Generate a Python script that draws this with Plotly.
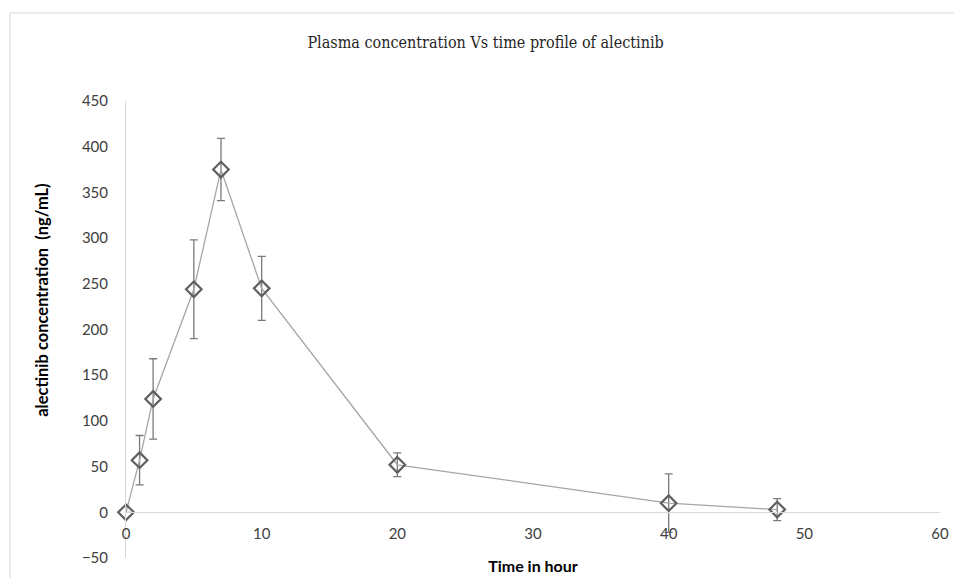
import plotly.graph_objects as go

time_h = [0, 1, 2, 5, 7, 10, 20, 40, 48]
conc = [0, 57, 124, 244, 375, 245, 52, 10, 3]
sd = [0, 27, 44, 54, 34, 35, 13, 32, 12]

x_ticks = [0, 10, 20, 30, 40, 50, 60]
y_ticks = [-50, 0, 50, 100, 150, 200, 250, 300, 350, 400, 450]

fig = go.Figure()
fig.add_trace(go.Scatter(
    x=time_h, y=conc, mode="lines+markers", cliponaxis=False,
    line=dict(color="#a6a6a6", width=1.3),
    marker=dict(symbol="diamond-open", size=12, color="#5f5f5f", line=dict(width=2.2, color="#5f5f5f")),
    error_y=dict(type="data", array=sd, visible=True, color="#7a7a7a", thickness=1.3, width=4),
    showlegend=False,
))

fig.update_layout(
    width=954, height=578,
    margin=dict(l=126, r=14, t=101, b=20),
    paper_bgcolor="white", plot_bgcolor="white",
    title=dict(text="Plasma concentration Vs time profile of alectinib",
               x=0.509, xanchor="center", y=0.927, yanchor="middle",
               font=dict(family="DejaVu Serif Condensed", size=16, color="#262626")),
    xaxis=dict(range=[0, 60], tickvals=x_ticks, showgrid=False, zeroline=False,
               anchor="free", position=0.1, showline=True, linecolor="#d9d9d9", linewidth=1,
               ticks="", ticklabelstandoff=8, automargin=False,
               tickfont=dict(family="Lato", size=15, color="#404040"),
               title=dict(text="<b>Time in hour</b>", standoff=19,
                          font=dict(family="Lato", size=16, color="#000000"))),
    yaxis=dict(range=[-50, 450], tickvals=y_ticks, showgrid=False, zeroline=False,
               showline=True, linecolor="#d9d9d9", linewidth=1, ticks="", ticklabelstandoff=14,
               automargin=False,
               tickfont=dict(family="Lato", size=15, color="#404040")),
    annotations=[dict(text="<b>alectinib concentration  (ng/mL)</b>", textangle=-90,
                      xref="paper", yref="paper", x=-0.1032, y=0.565,
                      xanchor="center", yanchor="middle", showarrow=False,
                      font=dict(family="Lato", size=16.5, color="#000000"))],
    shapes=[dict(type="rect", xref="paper", yref="paper",
                 x0=-0.1425, x1=1.3, y0=-0.3, y1=1.1926,
                 line=dict(color="#d9d9d9", width=1), fillcolor="rgba(0,0,0,0)", layer="below")],
)

fig.write_html("out.html")
